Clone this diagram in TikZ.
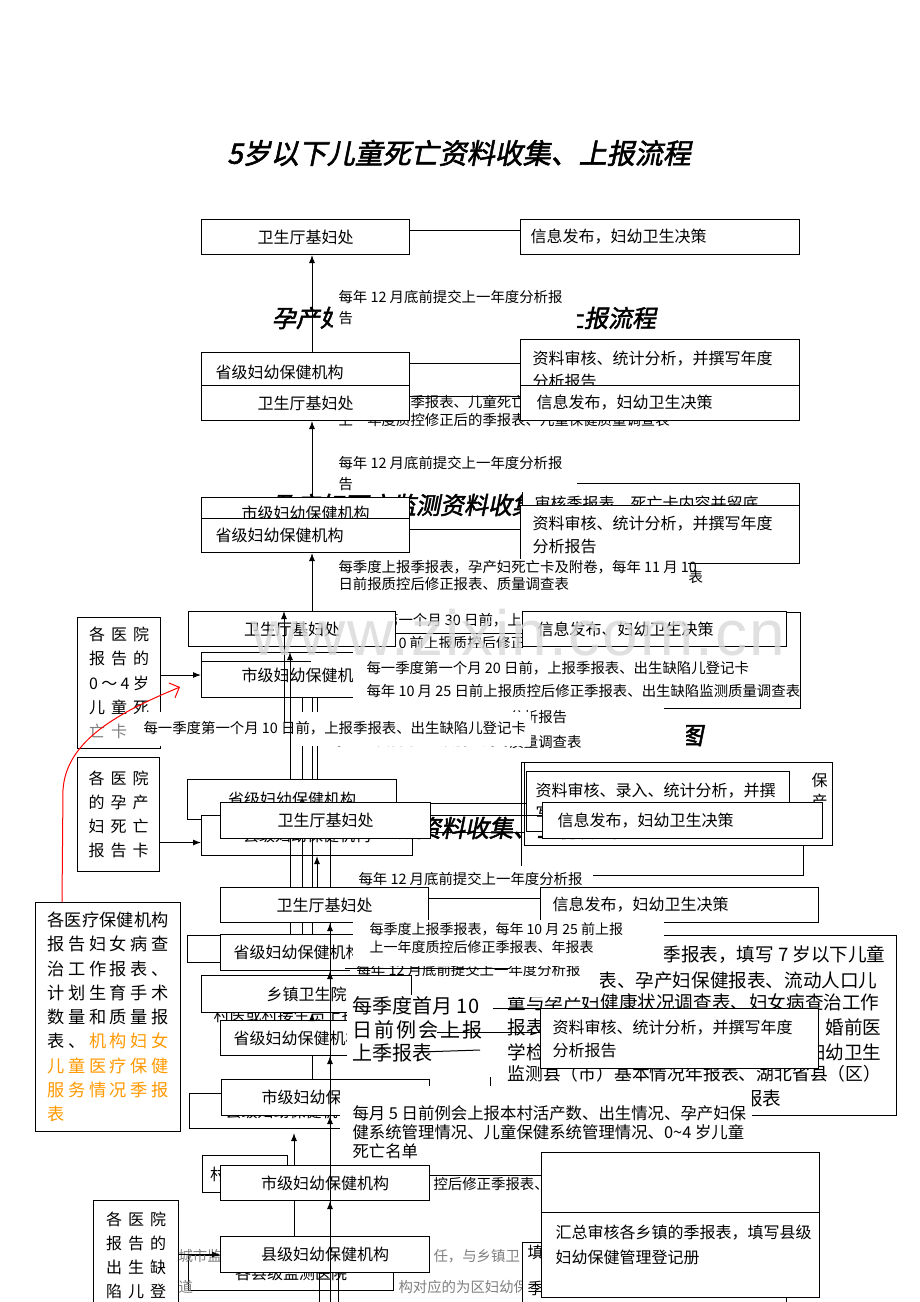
\documentclass[tikz,border=0pt]{standalone}
\usepackage{fontspec}
\setmainfont{Noto Sans CJK SC}
\newfontfamily\ttlfam[FakeSlant=0.2,FakeBold=2]{Noto Sans CJK SC}
\newfontfamily\wmfam[LetterSpace=3]{Liberation Sans}
\usepackage{xcolor}
\usetikzlibrary{positioning, arrows.meta}
\definecolor{lorange}{RGB}{255,153,0}
\newcommand\fbx{\fontsize{8}{11.5}\selectfont}
\newcommand\fnt{\fontsize{7.2}{10}\selectfont}
\newcommand\fntb{\fontsize{7}{10}\selectfont}
\newcommand\fntc{\fontsize{8.2}{10}\selectfont}
\newcommand\fsd{\fontsize{8}{12.1}\selectfont}
\newcommand\fq{\fontsize{9.3}{12}\selectfont}
\newcommand\fbig{\fontsize{10}{12}\selectfont}
\def\sprA#1#2{#1\ifx\relax#2\else\hfill\expandafter\sprA\expandafter#2\fi}
\newcommand\spr[1]{\sprA#1\relax}
\newcommand\sidel[2]{\makebox[#1][s]{\spr{#2}}}
\newcommand\ttlB{孕产妇死亡监测资料收集、上报流程}
\tikzset{
  box/.style={draw, fill=white, inner sep=0pt, anchor=north west, font=\fbx},
  side/.style={box, font=\fsd, align=center},
  tx/.style={inner sep=0pt, anchor=west, font=\fnt},
  ttl/.style={inner sep=0pt, font=\ttlfam\fontsize{12}{14}\selectfont},
  link/.style={line width=0.5pt}
}

\begin{document}
\begin{tikzpicture}[x=0.5pt, y=-0.5pt, line width=0.5pt,
    >={Latex[length=4pt, width=3pt]}]
\fill[white] (0,0) rectangle (920,1302);
\useasboundingbox (0,0) rectangle (920,1302);
\foreach \n/\x in {c284/284, c290/290, c294/294, c302/302, c312/312, c317/317, c319/319, c330/330, c338/338}
  \coordinate (\n) at (\x,0);

% Capa 1
\node[ttl, font=\ttlfam\fontsize{14}{16}\selectfont] (ttlA) at (459,153) {5岁以下儿童死亡资料收集、上报流程};
\node[box, minimum width=104pt, minimum height=17.5pt] (W1) at (201,219) {卫生厅基妇处};
\node[box, minimum height=17.5pt, text width=129.5pt, inner xsep=5pt, align=left] (I1) at (520,219) {信息发布，妇幼卫生决策};
\draw[link] ([yshift=-5.5pt]W1.north east) -- ([yshift=-5.5pt]I1.north west);
\node[ttl] (ttlB1) at (464,318) {\ttlB};
\node[box, minimum height=20pt, text width=90pt, inner xsep=7pt, align=left] (S1) at (201,352) {省级妇幼保健机构};
\node[box, minimum height=30pt, text width=127.5pt, inner xsep=6pt, align=left] (R1) at (520,339) {资料审核、统计分析，并撰写年度\\分析报告};
\coordinate (s1r) at ([yshift=-5.5pt]S1.north east);
\draw[link] (s1r) -- (s1r -| R1.west);
\draw[->] (S1.north -| c312) -- (W1.south -| c312);
\fill[white] (333,284) rectangle (577,331);
\node[tx] (t1a) at (338,297) {每年 12 月底前提交上一年度分析报};
\node[tx] (t1b) at (338,318) {告};
\node[tx] (t1c) at (410,402) {季报表、儿童死亡};
\node[tx] (t1d) at (338,420) {上一年度质控修正后的季报表、儿童保健质量调查表};

% Capa 2
\node[box, minimum width=104pt, minimum height=17.5pt] (W2) at (201,385) {卫生厅基妇处};
\node[box, minimum height=17.5pt, text width=123.5pt, inner xsep=8pt, align=left] (I2) at (520,385) {信息发布，妇幼卫生决策};
\draw[link] ([yshift=-5.5pt]W2.north east) -- ([yshift=-5.5pt]I2.north west);
\node[ttl] (ttlB2) at (464,505) {\ttlB};
\node[box, minimum width=104pt, minimum height=16pt] (M2) at (201,497) {市级妇幼保健机构};
\node[box, minimum height=20pt, text width=126.5pt, inner xsep=6pt, align=left] (A2) at (522,483) {审核季报表、死亡卡内容并留底};
\fill[white] (333,446) rectangle (577,492);
\node[tx] (t2a) at (338,463) {每年 12 月底前提交上一年度分析报};
\node[tx] (t2b) at (338,484) {告};
\node[box, minimum height=17pt, text width=90pt, inner xsep=7pt, align=left] (S2) at (201,518) {省级妇幼保健机构};
\node[box, minimum height=29pt, text width=127.5pt, inner xsep=6pt, align=left] (R2) at (520,505) {资料审核、统计分析，并撰写年度\\分析报告};
\coordinate (s2r) at ([yshift=-5.5pt]S2.north east);
\draw[link] (s2r) -- (s2r -| R2.west);
\draw[->] (M2.north -| c312) -- (W2.south -| c312);
\fill[white] (333,559) rectangle (688,592);
\node[tx] (t2c) at (338,567) {每季度上报季报表，孕产妇死亡卡及附卷，每年 11 月 10};
\node[tx] (t2d) at (338,584) {日前报质控后修正报表、质量调查表};
\node[tx] (t2e) at (688,577) {表};

% Capa 3
\node[tx] (t3a) at (326,620) {每一季度第一个月 30 日前，上报季报表};
\node[tx] (t3b) at (398,643) {0 前上报质控后修正季报表};
\node[box, minimum width=139pt, minimum height=48pt] (B3) at (522,612) {};
\node[box, minimum width=103.5pt, minimum height=17.5pt] (W3) at (188,611) {卫生厅基妇处};
\node[box, minimum height=17.5pt, text width=117pt, inner xsep=7.5pt, align=left] (I3) at (522,611) {信息发布、妇幼卫生决策};
\coordinate (w3r) at ([yshift=-11pt]W3.north east);
\draw[link] (w3r) -- (w3r -| I3.west);
\draw[->] (W3.north -| c312) -- (S2.south -| c312);
\node[side, minimum width=41.5pt, minimum height=65.5pt] (L1) at (77,617)
  {\sidel{30pt}{各医院}\\ \sidel{30pt}{报告的}\\ \sidel{30pt}{0～4岁}\\ \sidel{30pt}{儿童死}\\ \makebox[30pt][l]{\color{gray}亡\hspace{3pt}卡}};
\node[box, minimum width=104pt, minimum height=22.5pt] (M3) at (201,652) {\raisebox{-2.5pt}{市级妇幼保健机构}};
\draw[link] ([yshift=-4.5pt]M3.north west) -- ++(110,0);
\draw[->] (M3.west -| L1.east) -- (M3.west);
\fill[white] (353,648) rectangle (664,712);
\node[tx] (t3c) at (366,668) {每一季度第一个月 20 日前，上报季报表、出生缺陷儿登记卡};
\node[tx] (t3d) at (366,691) {每年 10 月 25 日前上报质控后修正季报表、出生缺陷监测质量调查表};
\coordinate (v3) at (0,779);
\foreach \c in {c302, c312, c317}
  \draw[link] (M3.south -| \c) -- (\c |- v3);
\node[ttl] (ttlC) at (511,735) {出生缺陷监测资料收集、上报流程图};
\fill[white] (509,710) rectangle (686,752);
\node[tx] (t3e) at (509,717) {分析报告};
\node[tx] (t3f) at (509,742) {质量调查表};
\fill[white] (140,712) rectangle (531,746);
\node[tx] (t3g) at (143,728) {每一季度第一个月 10 日前，上报季报表、出生缺陷儿登记卡};
\coordinate (a3) at (284,723);
\draw[->] (a3) -- (a3 |- W3.north);
\coordinate (b3) at (290,779);
\draw[->] (b3) -- (b3 |- M3.north);
\node[font=\wmfam\fontsize{32}{32}\selectfont, text=gray!30, opacity=0.8, anchor=base, inner sep=0pt] (wm) at (518,655) {www.zixin.com.cn};

% Capa 4
\node[side, minimum width=41pt, minimum height=57pt] (L2) at (77,757)
  {\sidel{30pt}{各医院}\\ \sidel{30pt}{的孕产}\\ \sidel{30pt}{妇死亡}\\ \sidel{30pt}{报告卡}};
\node[box, minimum width=141pt, minimum height=56.5pt] (O4b) at (521,762) {};
\node[box, minimum width=154pt, minimum height=41.5pt] (O4a) at (524,762) {};
\node[tx, font=\fbx] (f4a) at (811,780) {保};
\node[tx, font=\fbx] (f4b) at (811,801) {产};
\node[box, minimum height=30pt, text width=122.5pt, inner xsep=4.5pt, align=left] (R4) at (526,771) {资料审核、录入、统计分析，并撰\\写年度分析报告};
\node[box, minimum width=104.5pt, minimum height=20pt] (P4) at (187,779) {省级妇幼保健机构};
\coordinate (p4r) at ([yshift=-12pt]P4.north east);
\draw[link] (p4r) -- (p4r -| R4.west);
\node[box, minimum width=105.5pt, minimum height=20pt] (C4) at (201,815) {\raisebox{-5pt}{县级妇幼保健机构}};
\coordinate (c4r) at ([yshift=-8.5pt]C4.north east);
\draw[link] (c4r) -- (c4r -| O4a.west);
\coordinate (l2r) at ([yshift=-14pt]L2.east);
\draw[->] (l2r) -- (l2r -| C4.west);
\node[ttl] (ttlB3) at (441,828) {\ttlB};
\node[box, minimum width=105pt, minimum height=18pt] (W4) at (220,802) {卫生厅基妇处};
\node[box, minimum height=18pt, text width=125pt, inner xsep=7.5pt, align=left] (I4) at (542,802) {信息发布，妇幼卫生决策};
\coordinate (w4r) at ([yshift=-6.5pt]W4.north east);
\draw[link] (w4r) -- (w4r -| I4.west);
\coordinate (v5) at (0,887);
\foreach \c in {c290, c302, c312, c330}
  \draw[link] (W4.south -| \c) -- (\c |- v5);
\draw[->] (c317 |- v5) -- (c317 |- C4.south);
\fill[white] (352,866) rectangle (593,886);
\node[tx] (t4a) at (358,879) {每年 12 月底前提交上一年度分析报};

% Capa 5
\node[box, minimum width=104pt, minimum height=17.5pt] (W5) at (220,887) {卫生厅基妇处};
\node[box, minimum height=17.5pt, text width=127pt, inner xsep=6pt, align=left] (I5) at (540,887) {信息发布，妇幼卫生决策};
\draw[link] ([yshift=-5.5pt]W5.north east) -- ([yshift=-5.5pt]I5.north west);
\node[side, minimum width=72.5pt, minimum height=114.5pt, font=\fontsize{8.6}{12.15}\selectfont] (L3) at (35,902)
  {\sidel{60.5pt}{各医疗保健机构}\\ \sidel{60.5pt}{报告妇女病查}\\ \sidel{60.5pt}{治工作报表、}\\
   \sidel{60.5pt}{计划生育手术}\\ \sidel{60.5pt}{数量和质量报}\\
   \makebox[60.5pt][s]{\spr{表、}\hfill\color{lorange}\spr{机构妇女}}\\
   {\color{lorange}\sidel{60.5pt}{儿童医疗保健}}\\ {\color{lorange}\sidel{60.5pt}{服务情况季报}}\\
   \makebox[60.5pt][l]{\color{lorange}表}};
\node[box, minimum width=50pt, minimum height=13.5pt] (P5bg) at (187,935) {};
\node[box, minimum height=18pt, text width=91pt, inner xsep=6.5pt, align=left] (P5) at (220,934) {省级妇幼保健机构};
\foreach \c in {c290, c302, c312}
  \draw[link] (W5.south -| \c) -- (P5.north -| \c);
\node[box, minimum width=203pt, minimum height=90pt] (Q5) at (490,935) {};
\node[tx, font=\fq] (q1) at (662,955) {季报表，填写\hspace{2pt}7\hspace{2pt}岁以下儿童};
\node[tx, font=\fq] (q2) at (598,980) {表、孕产妇保健报表、流动人口儿};
\node[tx, font=\fq] (q3) at (507,1002) {童与孕产妇健康状况调查表、妇女病查治工作};
\node[tx, font=\fq] (q4) at (507,1027) {报表};
\node[tx, font=\fq, anchor=east] (q5) at (882,1027) {婚前医};
\node[tx, font=\fq] (q6) at (507,1052) {学检};
\node[tx, font=\fq, anchor=east] (q7) at (882,1052) {妇幼卫生};
\node[tx, font=\fontsize{8.9}{12}\selectfont] (q8) at (507,1074) {监测县（市）基本情况年报表、湖北省县（区）};
\node[tx, font=\fq, anchor=east] (q9) at (782,1098) {报表};
\fill[white] (350,958) rectangle (600,997);
\node[tx] (t5a) at (356,970) {每年 12 月底前提交上一年度分析报};
\node[tx] (t5b) at (356,990) {告};
\fill[white] (353,920) rectangle (664,966);
\node[tx, font=\fntb] (t5c) at (369,929) {每季度上报季报表，每年 10 月 25 前上报};
\node[tx, font=\fntb] (t5d) at (369,947) {上一年度质控后修正季报表、年报表};
\coordinate (h5a) at (345,968);
\coordinate (h5b) at (510,968);
\draw[link] (h5a) -- (h5b);
\node[tx, font=\fbx] (f5) at (213,1015) {村医或村接生员上报};
\node[box, minimum width=105pt, minimum height=18.5pt] (X5) at (201,975) {乡镇卫生院};
\node[box, minimum height=17.5pt, text width=91pt, inner xsep=6.5pt, align=left] (P5b) at (220,1020) {省级妇幼保健机构};
\node[box, minimum height=30pt, text width=127pt, inner xsep=6pt, align=left] (R5) at (540,1008) {资料审核、统计分析，并撰写年度\\分析报告};
\coordinate (q5l) at (493,1008);
\draw[link] (q5l) -- (R5.north west);
\fill[white] (347,995) rectangle (491,1077);
\node[tx, font=\fbig] (t5e) at (352,1006) {每季度首月 10};
\node[tx, font=\fbig] (t5f) at (352,1030) {\sidel{65pt}{日前例会上报}};
\node[tx, font=\fbig] (t5g) at (352,1053) {上季报表};
\coordinate (h5c) at (437,1032);
\draw[link] (h5c) -- (h5c -| R5.west);
\coordinate (h5d) at (420,1052);
\coordinate (h5e) at (480,1050);
\draw[link] (h5d) -- (h5e);
\draw[->] (P5b.north -| c312) -- (X5.south -| c312);
\node[box, minimum width=100pt, minimum height=17.5pt] (M5bg) at (189,1093) {\raisebox{-3.5pt}{县级妇幼保健机构}};
\node[box, minimum width=104pt, minimum height=18pt] (M5) at (221,1079) {市级妇幼保健机构};
\draw[link] (M5.north -| c312) -- (P5b.south -| c312);
\fill[white] (340,1086) rectangle (752,1163);
\node[tx, font=\fntc] (t5h) at (352,1113) {每月 5 日前例会上报本村活产数、出生情况、孕产妇保};
\node[tx, font=\fntc] (t5i) at (352,1132) {健系统管理情况、儿童保健系统管理情况、0\textasciitilde 4 岁儿童};
\node[tx, font=\fntc] (t5j) at (352,1151) {死亡名单};

% Capa 6
\node[side, minimum width=42.5pt, minimum height=55pt] (L4) at (93,1200)
  {\sidel{30pt}{各医院}\\ \sidel{30pt}{报告的}\\ \sidel{30pt}{出生缺}\\ \sidel{30pt}{陷儿登}};
\node[box, minimum width=102.5pt, minimum height=17.5pt] (G6) at (188,1255) {\raisebox{-2pt}{各县级监测医院}};
\node[tx, text=gray] (g6a) at (178,1256) {城市监};
\node[tx, text=gray] (g6b) at (178,1287) {道};
\node[tx, text=gray] (g6c) at (398,1287) {构对应的为区妇幼保};
\node[tx, text=gray] (g6d) at (433,1256) {任，与乡镇卫};
\node[box, minimum width=104.5pt, minimum height=18pt] (C6) at (220,1236) {县级妇幼保健机构};
\draw[->] (C6.west -| L4.east) -- (C6.west);
\coordinate (a6) at (294,1133);
\draw[->] (C6.north -| c294) -- (a6);
\node[box, minimum width=42.5pt, minimum height=18.5pt, align=left, text width=35pt, inner xsep=3.75pt] (M6bg) at (202,1155) {村医};
\node[box, minimum width=104.5pt, minimum height=17.5pt] (M6) at (220,1165) {市级妇幼保健机构};
\coordinate (m6r) at ([yshift=-5pt]M6.north east);
\node[tx] (f6c) at (433,1184) {控后修正季报表、};
\node[box, minimum width=132pt, minimum height=32.5pt] (K6) at (522,1242) {};
\node[tx, font=\fbx] (f6a) at (527,1252) {填};
\node[tx, font=\fbx] (f6b) at (527,1288) {季};
\node[box, minimum width=139pt, minimum height=30pt] (U6) at (541,1152) {};
\draw[link] (m6r) -- (m6r -| U6.west);
\node[box, minimum width=139pt, minimum height=42.5pt] (H6) at (541,1212) {};
\node[tx, font=\fbx] (h6a) at (555,1233) {汇总审核各乡镇的季报表，填写县级};
\node[tx, font=\fbx] (h6b) at (555,1257) {妇幼保健管理登记册};

% Flechas verticales
\coordinate (b6) at (330,1302);
\draw[link] (b6) -- (b6 |- W5.south);
\draw[->] (b6) -- (b6 |- M6.south);
\draw[->] (M6.north -| c330) -- (M5.south -| c330);
\draw[->] (M5.north -| c330) -- (P5b.south -| c330);
\draw[->] (P5b.north -| c330) -- (P5.south -| c330);
\draw[->] (P5.north -| c330) -- (W5.south -| c330);
\foreach \c in {c319, c338}
  \draw[link] (C6.south -| \c) -- (\c |- b6);

% Flecha roja
\coordinate (r0) at (62,902);
\coordinate (rm) at (63,790);
\coordinate (r1) at (180,687);
\draw[red, -{Straight Barb[length=4pt]}] (r0) -- (rm) .. controls (66,740) and (120,712) .. (r1);
\end{tikzpicture}
\end{document}
